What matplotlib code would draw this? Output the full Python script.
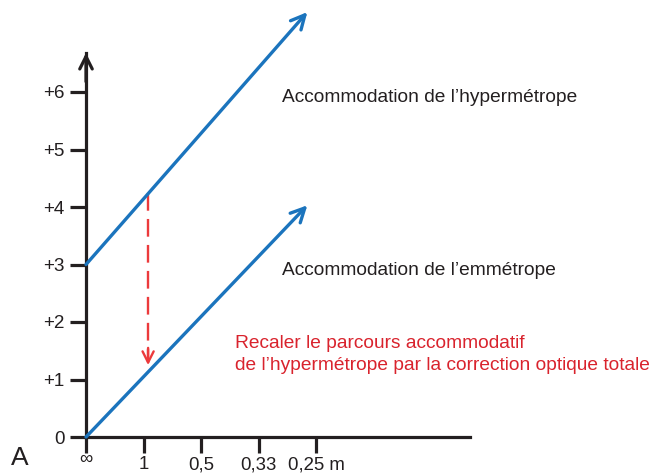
import matplotlib
matplotlib.use("Agg")
import matplotlib.pyplot as plt
import matplotlib.transforms as mtransforms

plt.rcParams['font.family'] = ['Liberation Sans', 'DejaVu Sans']

# dioptres (x: proximité en dioptries, y: accommodation)
x_ticks = [0, 1, 2, 3, 4]
x_labels = ['\u221e', '1', '0,5', '0,33', '0,25 m']
y_ticks = [0, 1, 2, 3, 4, 5, 6]
y_labels = ['0', '+1', '+2', '+3', '+4', '+5', '+6']

emme_x = [0, 3.85]
emme_y = [0, 4.03]
hyper_x = [0, 3.85]
hyper_y = [3, 7.39]

# recalage par la correction totale
shift_x = 1.08
shift_from = 4.24
shift_to = 1.25

axis_end = 6.68

blue = '#1b74bd'
red_arrow = '#ec3a3c'
red_text = '#d9232d'
ink = '#231f20'

px = 57.5  # pixels par dioptrie
fig = plt.figure(figsize=(6.61, 4.76), dpi=100)
ax = fig.add_axes([0, 0, 1, 1])
ax.set_xlim(-86 / px, (661 - 86) / px)
ax.set_ylim(-39 / px, 437 / px)

for s in ['top', 'right']:
    ax.spines[s].set_visible(False)
for s in ['left', 'bottom']:
    ax.spines[s].set_position(('data', 0))
    ax.spines[s].set_linewidth(2.3)
    ax.spines[s].set_color(ink)
    ax.spines[s].set_bounds(0, axis_end)

ax.set_xticks(x_ticks, x_labels)
ax.set_yticks(y_ticks, y_labels)
ax.tick_params(direction='out', length=11.5, width=2.3, color=ink,
               labelsize=13.4, labelcolor=ink)
ax.tick_params(axis='x', pad=2.2)
ax.tick_params(axis='y', pad=4, labelsize=13.6)

# le signe infini est un peu remonté
inf_label = ax.get_xticklabels()[0]
inf_label.set_transform(inf_label.get_transform() +
                        mtransforms.ScaledTranslation(0, 4 / 72, fig.dpi_scale_trans))

# fleche de l'axe vertical
ax.annotate('', xy=(0, axis_end), xytext=(0, axis_end - 0.5),
            arrowprops=dict(arrowstyle='->,head_length=0.9,head_width=0.45',
                            lw=2.3, color=ink, shrinkA=0, shrinkB=0))

# droites d'accommodation
for xs, ys in [(emme_x, emme_y), (hyper_x, hyper_y)]:
    ax.annotate('', xy=(xs[1], ys[1]), xytext=(xs[0], ys[0]),
                arrowprops=dict(arrowstyle='->,head_length=1.0,head_width=0.5',
                                lw=2.4, color=blue, shrinkA=0, shrinkB=0))

# fleche rouge en tirets
ax.plot([shift_x, shift_x], [shift_from, shift_to + 0.05], color=red_arrow,
        lw=1.7, linestyle=(0, (7.5, 3.5)))
ax.annotate('', xy=(shift_x, shift_to), xytext=(shift_x, shift_to + 0.3),
            arrowprops=dict(arrowstyle='->,head_length=0.8,head_width=0.4',
                            lw=1.7, color=red_arrow, shrinkA=0, shrinkB=0))

ax.text(3.41, 5.91, 'Accommodation de l\u2019hyperm\u00e9trope', fontsize=13.75,
        color=ink, va='center', ha='left')
ax.text(3.41, 2.90, 'Accommodation de l\u2019emm\u00e9trope', fontsize=13.75,
        color=ink, va='center', ha='left')
ax.text(2.59, 1.43, 'Recaler le parcours accommodatif\n'
        'de l\u2019hyperm\u00e9trope par la correction optique totale',
        fontsize=13.75, color=red_text, va='center', ha='left', linespacing=1.38)
ax.text(-1.15, -0.37, 'A', fontsize=19, color=ink, va='center', ha='center')

fig.savefig('out.png', dpi=100)
